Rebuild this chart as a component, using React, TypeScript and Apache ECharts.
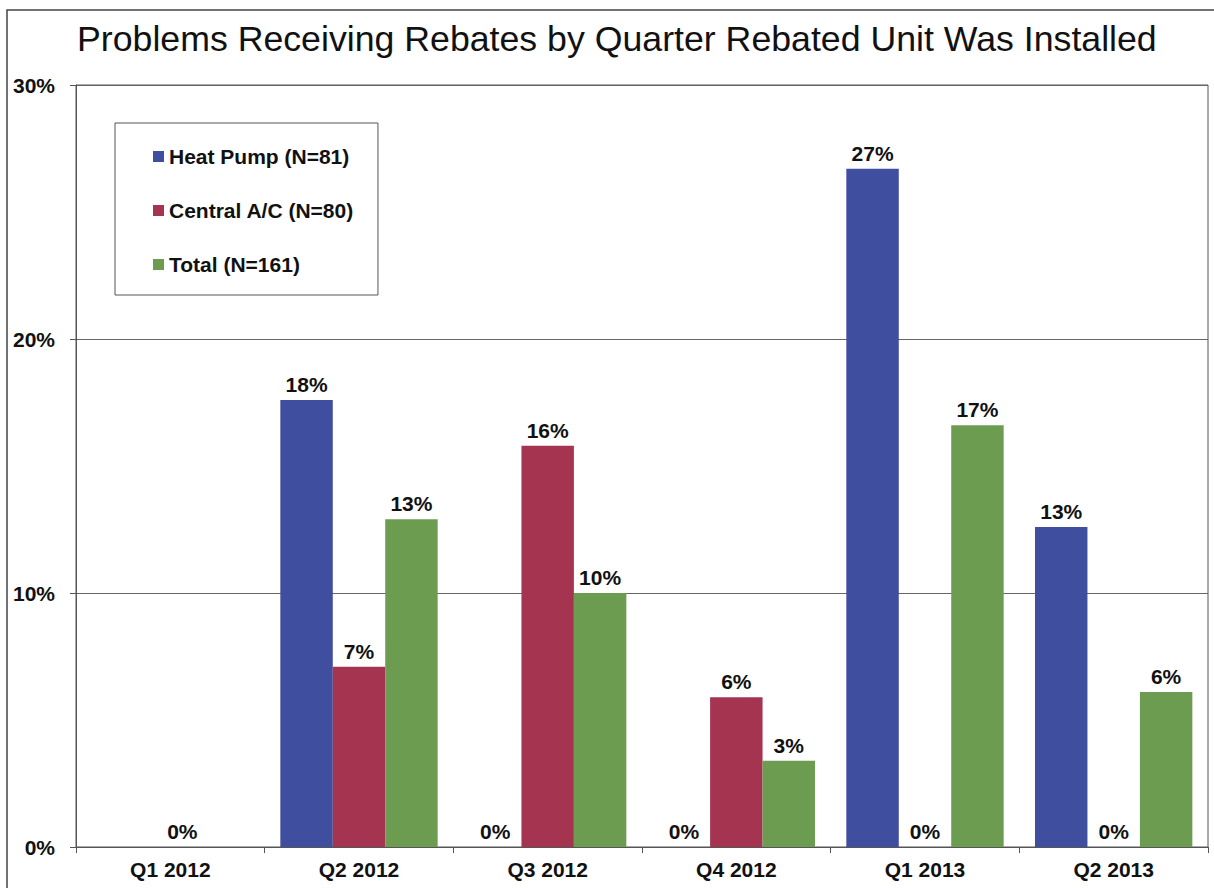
import React, { useEffect, useRef } from "react";
import * as echarts from "echarts";

const titleText = "Problems Receiving Rebates by Quarter Rebated Unit Was Installed";
const categories = ["Q1 2012", "Q2 2012", "Q3 2012", "Q4 2012", "Q1 2013", "Q2 2013"];
const seriesNames = ["Heat Pump (N=81)", "Central A/C (N=80)", "Total (N=161)"];
const heatPump = [0, 17.6, 0, 0, 26.7, 12.6];
const centralAC = [0, 7.1, 15.8, 5.9, 0, 0];
const total = [0, 12.9, 10.0, 3.4, 16.6, 6.1];
// data labels that are not shown in the original (category index per series)
const hiddenHeatPump = [0];
const hiddenCentralAC: number[] = [];
const hiddenTotal = [0];
const yTicks = [0, 10, 20, 30];
const yMin = 0;
const yMax = 30;
const yStep = 10;

const colors = ["#3f4e9e", "#a4344f", "#6c9c50"];
const FONT = "'Liberation Sans', Arial, Helvetica, sans-serif";
const FS = 21;

export default function App() {
  const ref = useRef<HTMLDivElement>(null);

  useEffect(() => {
    if (!ref.current) return;
    const chart = echarts.init(ref.current, undefined, { renderer: "svg" });

    const mk = (vals: number[], hidden: number[], name: string, color: string) => ({
      name,
      type: "bar",
      barGap: "0%",
      barCategoryGap: "16.6%",
      itemStyle: { color },
      label: {
        show: true,
        position: "top",
        distance: 5,
        color: "#111",
        fontFamily: FONT,
        fontWeight: "bold",
        fontSize: FS,
        formatter: (p: any) => Math.round(p.value) + "%",
      },
      data: vals.map((v, i) =>
        hidden.indexOf(i) >= 0
          ? { value: v, label: { show: false } }
          : name === seriesNames[1] && i === 0
          ? { value: v, label: { offset: [12, 0] } }
          : v
      ),
    });

    chart.setOption({
      animation: false,
      backgroundColor: "#ffffff",
      textStyle: { fontFamily: FONT },
      title: {
        text: titleText,
        left: 72,
        top: 16,
        textStyle: { fontFamily: FONT, fontSize: 35.7, fontWeight: "normal", color: "#111" },
      },
      legend: {
        orient: "vertical",
        left: 115,
        top: 123,
        padding: [23, 24, 20, 38],
        itemGap: 33,
        itemWidth: 11,
        itemHeight: 11,
        icon: "rect",
        backgroundColor: "#ffffff",
        borderColor: "#555",
        borderWidth: 1,
        textStyle: { fontFamily: FONT, fontSize: FS, fontWeight: "bold", color: "#111" },
        data: seriesNames,
      },
      grid: {
        left: 76,
        right: 6,
        top: 85,
        bottom: 41,
        show: true,
        borderColor: "#555",
        borderWidth: 1,
        backgroundColor: "transparent",
      },
      xAxis: {
        type: "category",
        data: categories,
        axisLine: { lineStyle: { color: "#555", width: 1 } },
        axisTick: { show: true, length: 6, lineStyle: { color: "#555" } },
        axisLabel: {
          color: "#111",
          fontFamily: FONT,
          fontWeight: "bold",
          fontSize: FS,
          margin: 12,
        },
      },
      yAxis: {
        type: "value",
        min: yMin,
        max: yMax,
        interval: yStep,
        axisLine: { show: true, lineStyle: { color: "#555", width: 1 } },
        axisTick: { show: true, length: 6, lineStyle: { color: "#555" } },
        splitLine: { show: true, lineStyle: { color: "#666", width: 1 } },
        axisLabel: {
          color: "#111",
          fontFamily: FONT,
          fontWeight: "bold",
          fontSize: FS,
          margin: 21,
          formatter: (v: number) => (yTicks.indexOf(v) >= 0 ? v + "%" : ""),
        },
      },
      graphic: [
        {
          type: "rect",
          silent: true,
          z: -1,
          shape: { x: 7, y: 10, width: 1220, height: 900 },
          style: { fill: "none", stroke: "#444", lineWidth: 1.5 },
        },
      ],
      series: [
        mk(heatPump, hiddenHeatPump, seriesNames[0], colors[0]),
        mk(centralAC, hiddenCentralAC, seriesNames[1], colors[1]),
        mk(total, hiddenTotal, seriesNames[2], colors[2]),
      ],
    });

    return () => chart.dispose();
  }, []);

  return (
    <div
      ref={ref}
      style={{ position: "fixed", left: 0, top: 0, width: 1214, height: 888, background: "#fff" }}
    />
  );
}
